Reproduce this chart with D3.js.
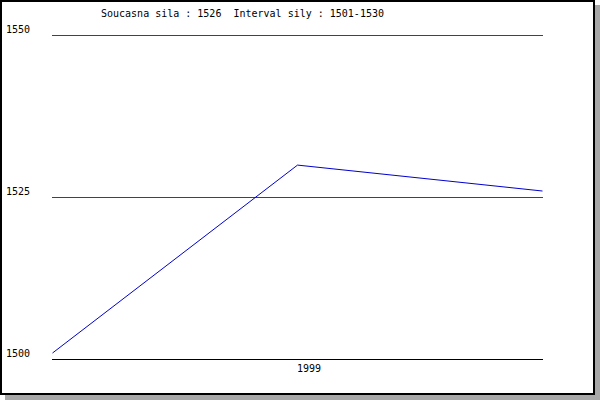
<!DOCTYPE html>
<html>
<head>
<meta charset="utf-8">
<script src="https://cdn.jsdelivr.net/npm/d3@7"></script>
<style>
  html, body { margin: 0; padding: 0; background: #ffffff; }
  svg { display: block; }
  text { font-family: "DejaVu Sans Mono", monospace; font-size: 10px; fill: #000; }
</style>
</head>
<body>
<svg id="chart" width="600" height="400"></svg>
<script>
// ---- data ----
const periods = ["a", "b", "c"];
const xLabels = ["", "1999", ""];
const ratings = [1501, 1530, 1526];
const yTicks = [1500, 1525, 1550];
const currentStrength = 1526;
const intervalLabel = "1501-1530";

const svg = d3.select("#chart");

// shadow + frame
svg.append("rect").attr("x", 5).attr("y", 5).attr("width", 595).attr("height", 395)
  .attr("fill", "#a8a8a8");
svg.append("rect").attr("x", 1).attr("y", 1).attr("width", 593).attr("height", 393)
  .attr("fill", "#ffffff").attr("stroke", "#000").attr("stroke-width", 2);

const x = d3.scalePoint().domain(periods).range([52, 542]);
const y = d3.scaleLinear().domain([1500, 1550]).range([359, 35]);

// title
svg.append("text").attr("x", 101).attr("y", 17)
  .text("Soucasna sila : " + currentStrength + "  Interval sily : " + intervalLabel)
  .attr("xml:space", "preserve").style("white-space", "pre");

// grid lines
svg.append("g").selectAll("line").data(yTicks).join("line")
  .attr("x1", x.range()[0]).attr("x2", x.range()[1] + 1)
  .attr("y1", d => Math.round(y(d)) + 0.5).attr("y2", d => Math.round(y(d)) + 0.5)
  .attr("stroke", d => d === yTicks[0] ? "#000000" : "#e00000")
  .attr("stroke-width", 1)
  .attr("shape-rendering", "crispEdges");

// y labels
svg.append("g").selectAll("text").data(yTicks).join("text")
  .attr("x", 6).attr("y", d => Math.round(y(d)) - 2)
  .text(d => d);

// x labels
svg.append("g").selectAll("text").data(periods).join("text")
  .attr("x", d => x(d)).attr("y", 372)
  .text((d, i) => xLabels[i]);

// data line
const line = d3.line().x((d, i) => x(periods[i]) + 0.5).y(d => y(d) + 0.5);
svg.append("path").datum(ratings)
  .attr("d", line)
  .attr("fill", "none")
  .attr("stroke", "#0000cc")
  .attr("stroke-width", 1);
</script>
</body>
</html>
